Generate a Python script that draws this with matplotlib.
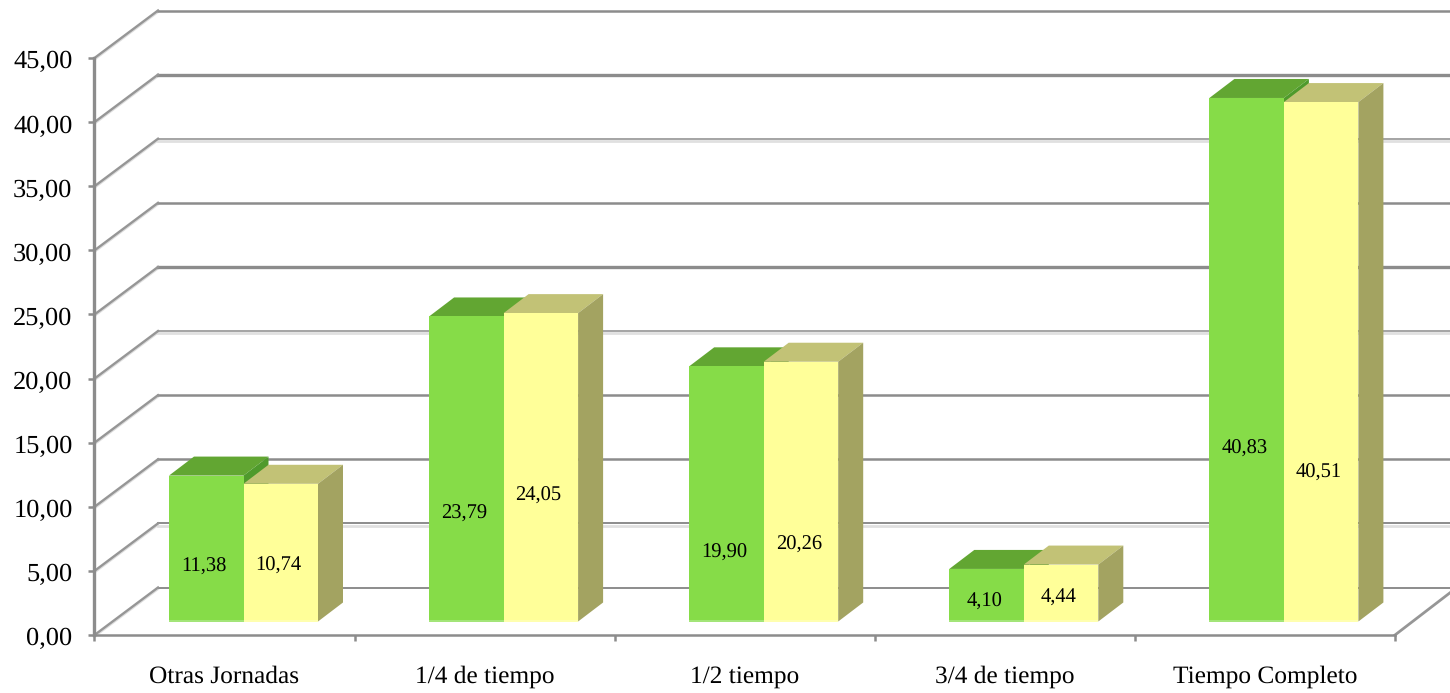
import matplotlib
matplotlib.use('Agg')
import matplotlib.pyplot as plt
from matplotlib.patches import Polygon
from matplotlib.transforms import ScaledTranslation

categorias = ['Otras Jornadas', '1/4 de tiempo', '1/2 tiempo', '3/4 de tiempo', 'Tiempo Completo']
serie_verde = [11.38, 23.79, 19.90, 4.10, 40.83]
serie_amarilla = [10.74, 24.05, 20.26, 4.44, 40.51]
ticks_y = [0, 5, 10, 15, 20, 25, 30, 35, 40, 45]

plt.rcParams['font.family'] = ['Liberation Serif', 'DejaVu Serif']
plt.rcParams['text.hinting'] = 'no_hinting'

W, H = 1450, 693
fig = plt.figure(figsize=(W / 100, H / 100), dpi=100)
# los ejes van de 94.5 a 1395 px en x y de 635 a 58 px en y
ax = fig.add_axes([94.5 / W, 1 - 635 / H, 1300.5 / W, 577 / H])
ax.set_xlim(0, 5)
ax.set_ylim(0, 45)
ax.patch.set_visible(False)

px = 5 / 1300.5   # un pixel en unidades de x
py = 45 / 577     # un pixel en unidades de y
GRIS = '#8c8c8c'
FUERA_X = 5 + 56 * px

# fondo y pared izquierda; el grosor de las lineas va cambiando como en el original
fondo_x, fondo_y = 63.5 * px, 47.5 * py
grosores = [1.4, 1.4, 1.8, 1.8, 1.1, 2.4, 1.8, 1.1, 2.4, 1.8]
con_sombra = [False, True, False, False, True, False, False, True, False, False]
for i, v in enumerate(ticks_y):
    y = v + fondo_y
    if con_sombra[i]:
        ax.plot([fondo_x, FUERA_X], [y - 2.2 * py, y - 2.2 * py], color='#e0e0e0', lw=2.0, clip_on=False, zorder=1)
    ax.plot([fondo_x, FUERA_X], [y, y], color=GRIS, lw=grosores[i], clip_on=False, zorder=2)
    ax.plot([0, fondo_x], [v - 1.5 * py, y - 1.5 * py], color='#dddddd', lw=1.6, clip_on=False, zorder=1)
    ax.plot([0, fondo_x], [v, y], color='#969696', lw=1.7, clip_on=False, zorder=2)
# diagonal del suelo a la derecha
ax.plot([5, FUERA_X], [0, 43 * py], color='#969696', lw=2.0, clip_on=False, zorder=2)


def barra(x0, valor, frente, arriba, lado, borde):
    base = 13.5 * py
    ancho = 74.5 * px
    dx, dy = 25 * px, 19 * py
    x1 = x0 + ancho
    tope = base + valor
    ax.add_patch(Polygon([(x0, tope), (x0 + dx, tope + dy), (x1 + dx, tope + dy), (x1, tope)], fc=arriba, ec='none', zorder=4))
    ax.add_patch(Polygon([(x1, base), (x1 + dx, base + dy), (x1 + dx, tope + dy), (x1, tope)], fc=lado, ec='none', zorder=4))
    ax.add_patch(Polygon([(x0, base), (x0, tope), (x1, tope), (x1, base)], fc=frente, ec='none', zorder=5))
    ax.plot([x0, x1], [base + py, base + py], color=borde, lw=1.4, solid_capstyle='butt', zorder=5)


# altura de las etiquetas (px sobre el eje), tal como salen en el original
alto_verde = [68, 121, 82, 33, 186]
alto_amarilla = [69, 139, 90, 37, 162]

for i in range(len(categorias)):
    x_verde = i + 74.5 * px
    x_amarilla = x_verde + 74.5 * px
    # primero la verde: el techo de la amarilla tapa su lado
    barra(x_verde, serie_verde[i], '#86dc48', '#62a632', '#4f9a2c', '#a4e67a')
    barra(x_amarilla, serie_amarilla[i], '#ffff99', '#c2c276', '#a3a361', '#ffffb0')
    ax.text(x_verde + 35 * px, alto_verde[i] * py, f'{serie_verde[i]:.2f}'.replace('.', ','),
            ha='center', va='center', fontsize=14.8, color='black', zorder=6)
    ax.text(x_amarilla + 35 * px, alto_amarilla[i] * py, f'{serie_amarilla[i]:.2f}'.replace('.', ','),
            ha='center', va='center', fontsize=14.8, color='black', zorder=6)

for s in ('top', 'right'):
    ax.spines[s].set_visible(False)
ax.spines['left'].set_color(GRIS)
ax.spines['left'].set_linewidth(2.4)
ax.spines['bottom'].set_color(GRIS)
ax.spines['bottom'].set_linewidth(1.8)
ax.spines['left'].set_zorder(3)
ax.spines['bottom'].set_zorder(3)

ax.set_yticks(ticks_y)
ax.set_yticklabels([f'{v:.2f}'.replace('.', ',') for v in ticks_y], fontsize=19)
ax.set_xticks(range(6))
ax.set_xticklabels([])
ax.tick_params(axis='both', color=GRIS, width=1.8, length=4.5)
ax.tick_params(axis='y', pad=11.3)
# las etiquetas del eje y quedan un poco mas abajo que la marca
baja = ScaledTranslation(0, -1 / 72, fig.dpi_scale_trans)
for t in ax.get_yticklabels():
    t.set_transform(t.get_transform() + baja)
for i, nombre in enumerate(categorias):
    ax.text(i + 0.5, -41.5 * py, nombre, ha='center', va='center', fontsize=18.3)

plt.savefig('out.png', dpi=100)
